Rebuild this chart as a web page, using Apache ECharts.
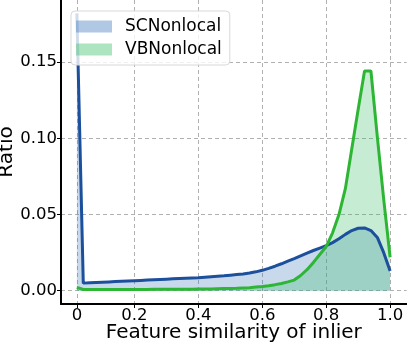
<!DOCTYPE html>
<html><head><meta charset="utf-8">
<script src="https://cdn.jsdelivr.net/npm/echarts@6/dist/echarts.min.js"></script>
<style>html,body{margin:0;padding:0;background:#fff}#c{width:407px;height:346px}</style>
</head><body><div id="c"></div>
<script>
const xValues = [0.02,0.04,0.06,0.08,0.10,0.12,0.14,0.16,0.18,0.20,
  0.22,0.24,0.26,0.28,0.30,0.32,0.34,0.36,0.38,0.40,
  0.42,0.44,0.46,0.48,0.50,0.52,0.54,0.56,0.58,0.60,
  0.62,0.64,0.66,0.68,0.70,0.72,0.74,0.76,0.78,0.80,
  0.82,0.84,0.86,0.88,0.90,0.92,0.94,0.96,0.98,1.00];
const scNonlocal = [0.182,0.0050,0.0052,0.0054,0.0056,0.0058,0.0060,0.0062,0.0064,0.0066,
  0.0068,0.0070,0.0072,0.0074,0.0076,0.0078,0.0080,0.0082,0.0084,0.0086,
  0.0089,0.0092,0.0095,0.0098,0.0102,0.0106,0.0110,0.0116,0.0124,0.0134,
  0.0147,0.0161,0.0177,0.0194,0.0211,0.0229,0.0247,0.0264,0.0280,0.0296,
  0.0316,0.0341,0.0370,0.0395,0.0410,0.0412,0.0395,0.0350,0.0250,0.0130];
const vbNonlocal = [0.0022,0.0008,0.0008,0.0008,0.0008,0.0008,0.0008,0.0008,0.0008,0.0008,
  0.0008,0.0008,0.0009,0.0009,0.0009,0.0009,0.0010,0.0010,0.0010,0.0011,
  0.0011,0.0012,0.0013,0.0014,0.0015,0.0016,0.0018,0.0020,0.0024,0.0028,
  0.0033,0.0040,0.0048,0.0058,0.0070,0.0100,0.0138,0.0186,0.0238,0.0290,
  0.0380,0.0500,0.0670,0.0930,0.1190,0.1442,0.1442,0.1010,0.0600,0.0220];
const xTickValues = [0.02,0.2,0.4,0.6,0.8,1.0];
const xTickLabels = ['0','0.2','0.4','0.6','0.8','1.0'];
const yTickValues = [0,0.05,0.10,0.15];
const yTickLabels = ['0.00','0.05','0.10','0.15'];
const seriesNames = ['SCNonlocal','VBNonlocal'];

const FONT = 'DejaVu Sans';
const BLUE_FILL = 'rgba(58,117,187,0.4)';
const GREEN_FILL = 'rgba(51,190,98,0.4)';
const chart = echarts.init(document.getElementById('c'), null, {renderer:'canvas'});
const gridLine = {show:true, lineStyle:{color:'#b0b0b0', type:[4,3], width:1}};
chart.setOption({
  animation:false,
  grid:{left:61, right:0.4, top:0, bottom:42, containLabel:false, outerBoundsMode:'none'},
  legend:{
    orient:'vertical', left:71, top:11, padding:[7,8,7,5],
    itemWidth:36, itemHeight:12, itemGap:6,
    backgroundColor:'rgba(255,255,255,0.8)', borderColor:'#d8d8d8', borderWidth:1, borderRadius:4,
    textStyle:{fontFamily:FONT, fontSize:17, color:'#000', padding:[0,0,0,8]},
    data:[
      {name:seriesNames[0], icon:'rect', itemStyle:{color:BLUE_FILL, borderWidth:0}},
      {name:seriesNames[1], icon:'rect', itemStyle:{color:GREEN_FILL, borderWidth:0}}
    ]
  },
  xAxis:{
    type:'value', min:-0.0297, max:1.0516,
    name:'Feature similarity of inlier', nameLocation:'middle', nameGap:19, nameMoveOverlap:false,
    nameTextStyle:{fontFamily:FONT, fontSize:20, color:'#000'},
    axisLine:{show:true, onZero:false, lineStyle:{color:'#000', width:2}},
    axisTick:{show:true, length:4, customValues:xTickValues, lineStyle:{color:'#000', width:1}},
    axisLabel:{customValues:xTickValues, fontFamily:FONT, fontSize:16.5, color:'#000', margin:3,
      formatter:(v)=>{const i=xTickValues.findIndex(t=>Math.abs(t-v)<1e-9);return i>=0?xTickLabels[i]:'';}},
    splitLine:gridLine
  },
  yAxis:{
    type:'value', min:-0.0087, max:0.1908,
    name:'Ratio', nameLocation:'middle', nameGap:44, nameMoveOverlap:false,
    nameTextStyle:{fontFamily:FONT, fontSize:20, color:'#000'},
    axisLine:{show:true, onZero:false, lineStyle:{color:'#000', width:2}},
    axisTick:{show:true, length:4, customValues:yTickValues, lineStyle:{color:'#000', width:1}},
    axisLabel:{customValues:yTickValues, fontFamily:FONT, fontSize:16.5, color:'#000', margin:4,
      formatter:(v)=>{const i=yTickValues.findIndex(t=>Math.abs(t-v)<1e-9);return i>=0?yTickLabels[i]:'';}},
    splitLine:gridLine
  },
  series:[
    {name:seriesNames[0], type:'line', showSymbol:false, symbol:'none',
     data:xValues.map((x,i)=>[x,scNonlocal[i]]),
     lineStyle:{color:'#1c4f9c', width:3}, itemStyle:{color:'#1c4f9c'},
     areaStyle:{color:BLUE_FILL}},
    {name:seriesNames[1], type:'line', showSymbol:false, symbol:'none',
     data:xValues.map((x,i)=>[x,vbNonlocal[i]]),
     lineStyle:{color:'#2db534', width:3}, itemStyle:{color:'#2db534'},
     areaStyle:{color:GREEN_FILL}}
  ]
});
</script></body></html>
